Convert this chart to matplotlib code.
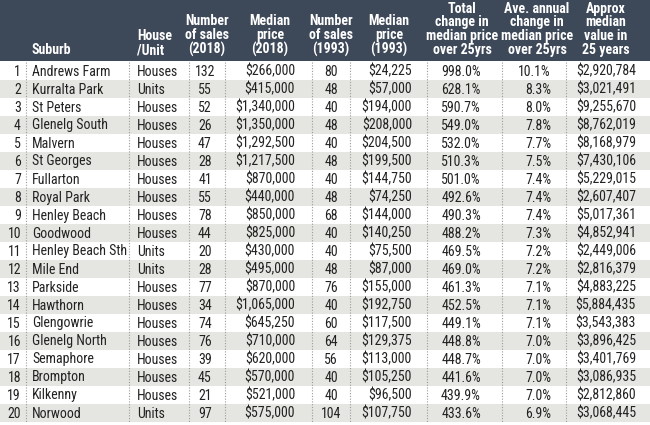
import matplotlib
matplotlib.use('Agg')
import matplotlib.pyplot as plt
from matplotlib import font_manager
from matplotlib.patches import Rectangle

# Table data
suburbs = ["Andrews Farm", "Kurralta Park", "St Peters", "Glenelg South", "Malvern",
           "St Georges", "Fullarton", "Royal Park", "Henley Beach", "Goodwood",
           "Henley Beach Sth", "Mile End", "Parkside", "Hawthorn", "Glengowrie",
           "Glenelg North", "Semaphore", "Brompton", "Kilkenny", "Norwood"]
house_unit = ["Houses", "Units", "Houses", "Houses", "Houses", "Houses", "Houses",
              "Houses", "Houses", "Houses", "Units", "Units", "Houses", "Houses",
              "Houses", "Houses", "Houses", "Houses", "Houses", "Units"]
sales_2018 = [132, 55, 52, 26, 47, 28, 41, 55, 78, 44, 20, 28, 77, 34, 74, 76, 39, 45, 21, 97]
price_2018 = [266000, 415000, 1340000, 1350000, 1292500, 1217500, 870000, 440000, 850000,
              825000, 430000, 495000, 870000, 1065000, 645250, 710000, 620000, 570000,
              521000, 575000]
sales_1993 = [80, 48, 40, 48, 40, 48, 40, 48, 68, 40, 40, 48, 76, 40, 60, 64, 56, 40, 40, 104]
price_1993 = [24225, 57000, 194000, 208000, 204500, 199500, 144750, 74250, 144000, 140250,
              75500, 87000, 155000, 192750, 117500, 129375, 113000, 105250, 96500, 107750]
total_change = [998.0, 628.1, 590.7, 549.0, 532.0, 510.3, 501.0, 492.6, 490.3, 488.2,
                469.5, 469.0, 461.3, 452.5, 449.1, 448.8, 448.7, 441.6, 439.9, 433.6]
annual_change = [10.1, 8.3, 8.0, 7.8, 7.7, 7.5, 7.4, 7.4, 7.4, 7.3,
                 7.2, 7.2, 7.1, 7.1, 7.1, 7.0, 7.0, 7.0, 7.0, 6.9]
value_25yrs = [2920784, 3021491, 9255670, 8762019, 8168979, 7430106, 5229015, 2607407,
               5017361, 4852941, 2449006, 2816379, 4883225, 5884435, 3543383, 3896425,
               3401769, 3086935, 2812860, 3068445]

headers = ["Suburb", "House\n/Unit", "Number\nof sales\n(2018)", "Median\nprice\n(2018)",
           "Number\nof sales\n(1993)", "Median\nprice\n(1993)",
           "Total\nchange in\nmedian price\nover 25yrs",
           "Ave. annual\nchange in\nmedian price\nover 25yrs",
           "Approx\nmedian\nvalue in\n25 years"]

# pick a condensed font if one is around
names = set(f.name for f in font_manager.fontManager.ttflist)
font = 'Liberation Sans'
for cand in ['Roboto Condensed', 'Liberation Sans Narrow', 'Open Sans Condensed']:
    if cand in names:
        font = cand
        break
plt.rcParams['font.family'] = [font, 'DejaVu Sans']

header_bg = '#3d4858'
band_bg = '#e5e5e1'
text_col = '#222222'

W, H = 650, 425
fig = plt.figure(figsize=(6.5, 4.25), dpi=100)
ax = fig.add_axes([0, 0, 1, 1])
ax.set_xlim(0, W)
ax.set_ylim(H, 0)
ax.axis('off')

header_h = 61
row_top = 62
row_h = 18
n = len(suburbs)

ax.add_patch(Rectangle((0, 0), W, header_h, color=header_bg, lw=0))
for i in range(n):
    if i % 2 == 1:
        ax.add_patch(Rectangle((0, row_top + i * row_h), W, row_h, color=band_bg, lw=0))

# dotted column separators
for x in [26, 129, 189, 225, 312, 350, 427, 502, 566]:
    ax.plot([x, x], [row_top, row_top + n * row_h], color='#9a9a9a', lw=0.8,
            linestyle=(0, (1, 1.5)))

# header text, one multi-line text per column
head_pos = [(32, 'left'), (137, 'left'), (207, 'center'), (270, 'center'), (331, 'center'),
            (389, 'center'), (462, 'center'), (537, 'center'), (606, 'center')]
for label, (x, ha) in zip(headers, head_pos):
    ax.text(x, 57, label, ha=ha, va='bottom', multialignment=ha, color='white',
            fontsize=10, fontweight='bold', linespacing=0.98)

def money(v):
    return '${:,}'.format(v)

fs = 10
for i in range(n):
    y = row_top + i * row_h + row_h / 2 + 4.5
    cells = [(21, 'right', str(i + 1)),
             (32, 'left', suburbs[i]),
             (137, 'left', house_unit[i]),
             (205, 'center', str(sales_2018[i])),
             (295, 'right', money(price_2018[i])),
             (331, 'center', str(sales_1993[i])),
             (412, 'right', money(price_1993[i])),
             (461, 'center', '{:.1f}%'.format(total_change[i])),
             (551, 'right', '{:.1f}%'.format(annual_change[i])),
             (636, 'right', money(value_25yrs[i]))]
    for x, ha, s in cells:
        ax.text(x, y, s, ha=ha, va='baseline', color=text_col, fontsize=fs)

fig.savefig('out.png', dpi=100)
